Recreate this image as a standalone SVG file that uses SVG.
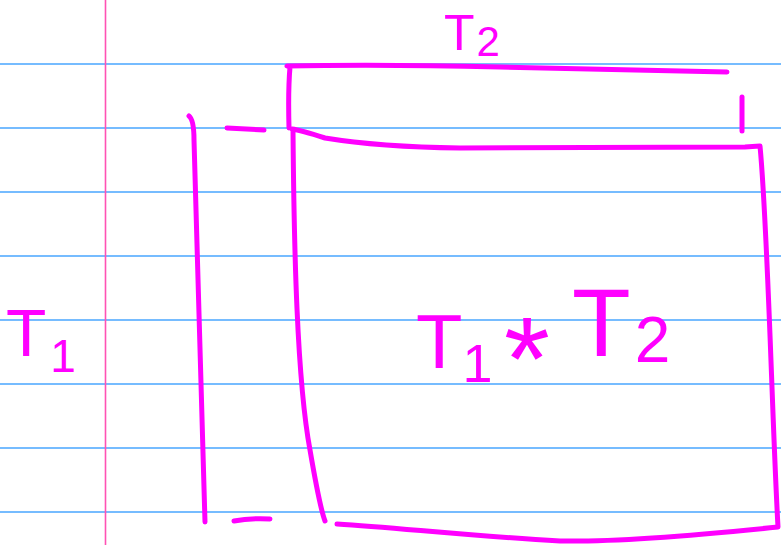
<svg xmlns="http://www.w3.org/2000/svg" width="781" height="545" viewBox="0 0 781 545">
<style>
.rule{stroke:#4aa6ff;stroke-width:1.4;fill:none}
.margin{stroke:#ff52b4;stroke-width:1.6;fill:none}
.ink{stroke:#ff00ff;stroke-width:5;fill:none;stroke-linecap:round;stroke-linejoin:round}
.lbl{fill:#ff00ff;font-family:"Liberation Sans","DejaVu Sans",sans-serif}
</style>
<rect width="781" height="545" fill="#ffffff"/>
<g id="paper">
<path class="rule" d="M0 64H781M0 128H781M0 192H781M0 256H781M0 320H781M0 384H781M0 448H781M0 512H781"/>
<path class="margin" d="M105.5 0V545"/>
</g>
<g id="connectors">
<path id="t1-bracket" class="ink" d="M189 116 Q194 120 194 140 C196 250 202 380 205 522"/>
<path class="ink" d="M227 128 L264 130"/>
<path class="ink" d="M234 521 Q250 518 270 519"/>
<path id="t2-box" class="ink" d="M289 128 Q288 90 290 67 L287 66 Q380 64 500 67 L727 72"/>
<path class="ink" d="M742 97 L742 131"/>
<path id="product-box" class="ink" d="M293 130 C294 250 297 380 310 450 C316 485 320 508 325 521 M292 129 Q300 130 325 138 Q380 147 460 148 L745 147 L760 146 C768 230 772 420 778 527 C700 535 620 542 560 541 C470 536 400 528 337 524"/>
</g>
<g id="label-t2">
<text class="lbl" x="444" y="50" font-size="50">T<tspan font-size="42" dx="2" dy="6">2</tspan></text>
</g>
<g id="label-t1">
<text class="lbl" x="6" y="356" font-size="66">T<tspan font-size="46" dx="4" dy="16">1</tspan></text>
</g>
<g id="label-product">
<text class="lbl" x="416" y="368" font-size="76">T<tspan font-size="54" dy="14">1</tspan></text>
<text class="lbl" x="527" y="400" font-size="118" text-anchor="middle">*</text>
<text class="lbl" x="572" y="356" font-size="96">T<tspan font-size="64" dx="4" dy="6">2</tspan></text>
</g>
</svg>
